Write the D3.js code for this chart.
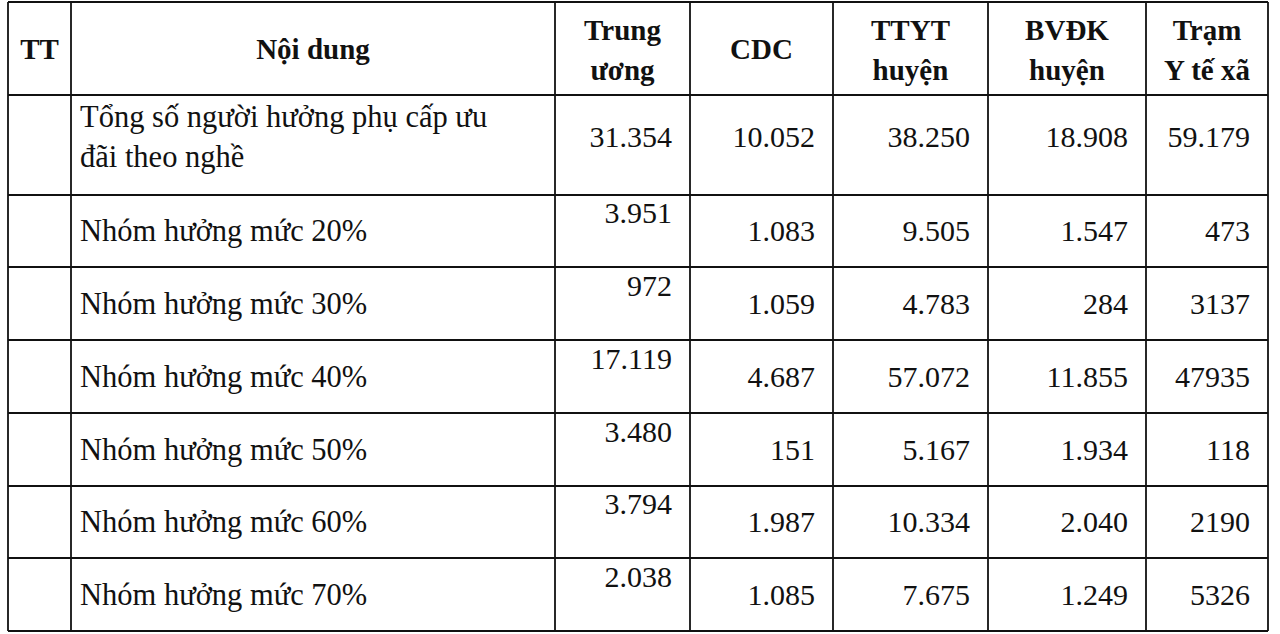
<!DOCTYPE html>
<html><head><meta charset="utf-8">
<script src="https://cdn.jsdelivr.net/npm/d3@7"></script>
<style>body{margin:0;background:#fff}</style></head>
<body><svg id="c" width="1280" height="634"></svg>
<script>
const headers = [["TT"],["Nội dung"],["Trung","ương"],["CDC"],["TTYT","huyện"],["BVĐK","huyện"],["Trạm","Y tế xã"]];
const rowLabels = [["Tổng số người hưởng phụ cấp ưu","đãi theo nghề"],["Nhóm hưởng mức 20%"],["Nhóm hưởng mức 30%"],["Nhóm hưởng mức 40%"],["Nhóm hưởng mức 50%"],["Nhóm hưởng mức 60%"],["Nhóm hưởng mức 70%"]];
const trungUong = ["31.354","3.951","972","17.119","3.480","3.794","2.038"];
const cdc = ["10.052","1.083","1.059","4.687","151","1.987","1.085"];
const ttyt = ["38.250","9.505","4.783","57.072","5.167","10.334","7.675"];
const bvdk = ["18.908","1.547","284","11.855","1.934","2.040","1.249"];
const tram = ["59.179","473","3137","47935","118","2190","5326"];
const cols = [trungUong, cdc, ttyt, bvdk, tram];

const colEdges = [8,71,555,690,833,988,1146,1268];
const rowEdges = [2,95,195,267,340,413,486,558,631];
const svg = d3.select("#c");
const font = "'Liberation Serif','Times New Roman',serif";
const g = svg.append("g");
g.selectAll("line.v").data(colEdges).join("line").attr("x1",d=>d).attr("x2",d=>d)
 .attr("y1",rowEdges[0]).attr("y2",rowEdges[rowEdges.length-1]).attr("stroke","#111").attr("stroke-width",1.8);
g.selectAll("line.h").data(rowEdges).join("line").attr("y1",d=>d).attr("y2",d=>d)
 .attr("x1",colEdges[0]).attr("x2",colEdges[colEdges.length-1]).attr("stroke","#111").attr("stroke-width",1.8);
headers.forEach((h,i)=>{
  const cx=(colEdges[i]+colEdges[i+1])/2;
  const cy=(rowEdges[0]+rowEdges[1])/2;
  h.forEach((t,j)=>{
    const y = h.length===1 ? cy+10 : cy-9+(j*40);
    svg.append("text").attr("x",cx).attr("y",y).attr("text-anchor","middle")
      .attr("font-family",font).attr("font-weight","bold").attr("font-size",29).attr("fill","#111").text(t);
  });
});
rowLabels.forEach((lab,r)=>{
  const top=rowEdges[r+1], bot=rowEdges[r+2], cy=(top+bot)/2;
  lab.forEach((t,j)=>{
    const y = lab.length===1 ? cy+10 : cy-18+j*40;
    svg.append("text").attr("x",80).attr("y",y).attr("font-family",font).attr("font-size",30.5).attr("fill","#111").text(t);
  });
  cols.forEach((col,c)=>{
    const right=colEdges[c+3]-18;
    const y = r===0 ? cy+2 : (c===0 ? cy-8 : cy+10);
    svg.append("text").attr("x",right).attr("y",y).attr("text-anchor","end")
      .attr("font-family",font).attr("font-size",30).attr("fill","#111").text(col[r]);
  });
});
</script></body></html>
